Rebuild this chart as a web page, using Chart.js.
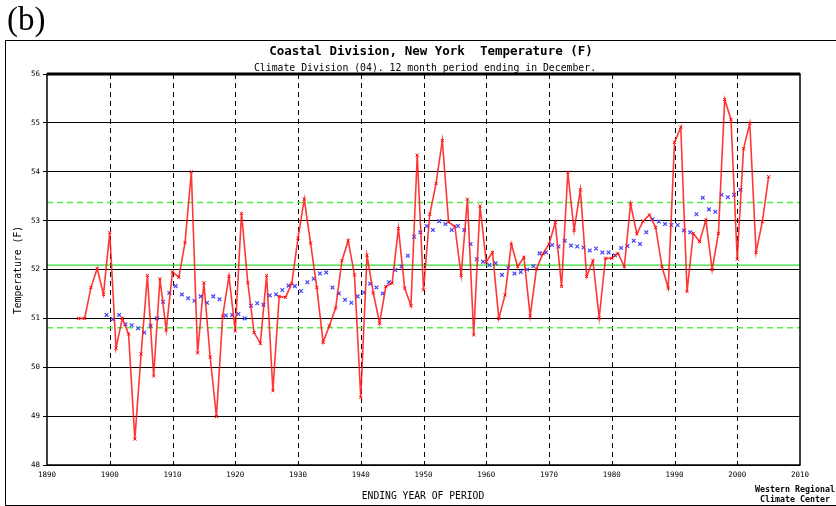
<!DOCTYPE html>
<html>
<head>
<meta charset="utf-8">
<script src="https://cdn.jsdelivr.net/npm/chart.js@4.4.1/dist/chart.umd.min.js"></script>
<style>
  html, body { margin:0; padding:0; background:#fff; }
  #wrap { position:relative; width:836px; height:506px; overflow:hidden; background:#fff; }
  #c { position:absolute; left:0; top:0; }
  .t { position:absolute; white-space:nowrap; color:#000; font-family:"DejaVu Sans Mono", "Liberation Mono", monospace; line-height:1; }
  #frame { position:absolute; left:5px; top:40px; width:840px; height:466px; border:1px solid #000; box-sizing:border-box; }
</style>
</head>
<body>
<div id="wrap">
  <div id="frame"></div>
  <canvas id="c" width="836" height="506"></canvas>
  <div class="t" style="left:7px;top:3px;font-family:'Liberation Serif','DejaVu Serif',serif;font-size:33px;">(b)</div>
  <div class="t" style="left:431px;top:45px;transform:translateX(-50%);font-size:12.5px;font-weight:bold;">Coastal Division, New York&nbsp;&nbsp;Temperature (F)</div>
  <div class="t" style="left:425px;top:63px;transform:translateX(-50%);font-size:9.8px;">Climate Division (04). 12 month period ending in December.</div>
  <div class="t" style="left:18px;top:270px;transform:translate(-50%,-50%) rotate(-90deg);font-size:9.8px;">Temperature (F)</div>
  <div class="t" style="left:423px;top:491px;transform:translateX(-50%);font-size:9.7px;">ENDING YEAR OF PERIOD</div>
  <div class="t" style="left:795px;top:485px;transform:translateX(-50%);font-size:8.3px;font-weight:bold;">Western Regional</div>
  <div class="t" style="left:795px;top:495px;transform:translateX(-50%);font-size:8.3px;font-weight:bold;">Climate Center</div>
</div>
<script>
// ---- Data ----
const years = [1895,1896,1897,1898,1899,1900,1901,1902,1903,1904,1905,1906,1907,1908,1909,
  1910,1911,1912,1913,1914,1915,1916,1917,1918,1919,1920,1921,1922,1923,1924,1925,1926,1927,1928,1929,
  1930,1931,1932,1933,1934,1935,1936,1937,1938,1939,1940,1941,1942,1943,1944,1945,1946,1947,1948,1949,
  1950,1951,1952,1953,1954,1955,1956,1957,1958,1959,1960,1961,1962,1963,1964,1965,1966,1967,1968,1969,
  1970,1971,1972,1973,1974,1975,1976,1977,1978,1979,1980,1981,1982,1983,1984,1985,1986,1987,1988,1989,
  1990,1991,1992,1993,1994,1995,1996,1997,1998,1999,2000,2001,2002,2003,2004,2005];
const annualTemp = [51.0,51.0,51.63,52.02,51.49,52.76,50.39,51.0,50.68,48.53,50.27,51.88,49.82,51.81,50.76,
  51.95,51.84,52.55,54.0,50.29,51.73,50.21,48.99,51.05,51.86,50.74,53.15,51.73,50.71,50.49,51.88,49.52,51.45,51.43,51.71,
  52.64,53.44,52.54,51.63,50.51,50.85,51.21,52.18,52.59,51.89,49.38,52.29,51.52,50.90,51.65,51.72,52.84,51.62,51.26,54.34,
  51.58,53.13,53.76,54.64,52.97,52.88,51.88,53.44,50.66,53.30,52.16,52.35,51.0,51.48,52.52,52.06,52.25,51.05,52.01,52.32,
  52.52,52.96,51.65,53.99,52.80,53.63,51.86,52.18,51.01,52.23,52.23,52.33,52.06,53.34,52.73,52.99,53.12,52.86,52.06,51.62,
  54.60,54.91,51.55,52.74,52.57,53.01,52.0,52.74,55.48,55.07,52.21,54.47,54.99,52.35,52.98,53.90];

const avgYears = [1899.5,1900.5,1901.5,1902.5,1903.5,1904.5,1905.5,1906.5,1907.5,1908.5,1909.5,
  1910.5,1911.5,1912.5,1913.5,1914.5,1915.5,1916.5,1917.5,1918.5,1919.5,1920.5,1921.5,1922.5,1923.5,1924.5,1925.5,
  1926.5,1927.5,1928.5,1929.5,1930.5,1931.5,1932.5,1933.5,1934.5,1935.5,1936.5,1937.5,1938.5,1939.5,1940.5,
  1941.5,1942.5,1943.5,1944.5,1945.5,1946.5,1947.5,1948.5,1949.5,1950.5,1951.5,1952.5,1953.5,1954.5,1955.5,
  1956.5,1957.5,1958.5,1959.5,1960.5,1961.5,1962.5,1963.5,1964.5,1965.5,1966.5,1967.5,1968.5,1969.5,1970.5,
  1971.5,1972.5,1973.5,1974.5,1975.5,1976.5,1977.5,1978.5,1979.5,1980.5,1981.5,1982.5,1983.5,1984.5,1985.5,
  1986.5,1987.5,1988.5,1989.5,1990.5,1991.5,1992.5,1993.5,1994.5,1995.5,1996.5,1997.5,1998.5,1999.5,2000.5];
const avgTemp = [51.07,50.98,51.07,50.88,50.86,50.80,50.71,50.85,51.0,51.34,51.52,
  51.66,51.49,51.41,51.36,51.45,51.32,51.45,51.39,51.06,51.07,51.09,51.0,51.26,51.31,51.28,51.47,
  51.49,51.58,51.67,51.66,51.56,51.74,51.81,51.92,51.94,51.63,51.51,51.38,51.32,51.45,51.53,
  51.71,51.63,51.51,51.74,51.99,52.06,52.28,52.67,52.76,52.89,52.81,52.99,52.93,52.81,52.89,
  52.81,52.52,52.21,52.16,52.09,52.13,51.89,52.03,51.92,51.95,52.0,52.07,52.33,52.35,52.50,
  52.47,52.59,52.49,52.47,52.45,52.39,52.43,52.35,52.35,52.29,52.44,52.48,52.59,52.52,52.76,
  53.03,52.98,52.93,52.91,52.91,52.80,52.76,53.13,53.47,53.23,53.18,53.53,53.48,53.53,53.63];

const meanValue = 52.09;
const upperSD = 53.37;
const lowerSD = 50.81;
const xTicks = [1890,1900,1910,1920,1930,1940,1950,1960,1970,1980,1990,2000,2010];
const yTicks = [48,49,50,51,52,53,54,55,56];

// ---- Chart ----
const X_MIN = xTicks[0], X_MAX = xTicks[xTicks.length-1];
const hline = v => [{x:X_MIN,y:v},{x:X_MAX,y:v}];

// dashed vertical decade lines, positioned through the x scale
const decadeLines = {
  id:'decadeLines',
  beforeDatasetsDraw(chart){
    const a = chart.chartArea, ctx = chart.ctx, xs = chart.scales.x;
    ctx.save();
    ctx.strokeStyle = '#000';
    ctx.lineWidth = 1;
    ctx.setLineDash([5,4]);
    xTicks.forEach(v => {
      if (v === X_MIN || v === X_MAX) return;
      const px = Math.round(xs.getPixelForValue(v)) + 0.5;
      ctx.beginPath(); ctx.moveTo(px, a.top); ctx.lineTo(px, a.bottom); ctx.stroke();
    });
    ctx.restore();
  }
};

const framePlugin = {
  id:'frame',
  afterDatasetsDraw(chart){
    const a = chart.chartArea, ctx = chart.ctx;
    ctx.save();
    ctx.strokeStyle = '#000';
    ctx.lineWidth = 1.5;
    ctx.strokeRect(a.left, a.top, a.right-a.left, a.bottom-a.top);
    ctx.lineWidth = 3;
    ctx.beginPath(); ctx.moveTo(a.left, a.top); ctx.lineTo(a.right, a.top); ctx.stroke();
    ctx.restore();
  }
};

const tickFont = {family:'"DejaVu Sans Mono", "Liberation Mono", monospace', size:7.5};

new Chart(document.getElementById('c'), {
  type:'scatter',
  data:{
    datasets:[
      {data:hline(upperSD), showLine:true, borderColor:'#55ee44', borderWidth:1.5, borderDash:[6,4], pointRadius:0, order:5},
      {data:hline(lowerSD), showLine:true, borderColor:'#55ee44', borderWidth:1.5, borderDash:[6,4], pointRadius:0, order:5},
      {data:hline(meanValue), showLine:true, borderColor:'#33dd33', borderWidth:1.2, pointRadius:0, order:5},
      {data:avgYears.map((x,i)=>({x, y:avgTemp[i]})), showLine:false, pointStyle:'crossRot', pointRadius:2.6,
        borderColor:'#4444ff', backgroundColor:'#4444ff', pointBorderWidth:1.2, order:2},
      {data:years.map((x,i)=>({x, y:annualTemp[i]})), showLine:true, borderColor:'rgba(255,20,20,0.85)', borderWidth:1.6,
        pointStyle:'crossRot', pointRadius:2.2, pointBorderWidth:1, pointBorderColor:'#ff0000', backgroundColor:'#ff0000', tension:0, order:1}
    ]
  },
  options:{
    responsive:false,
    animation:false,
    devicePixelRatio:1,
    layout:{padding:{top:74, left:0, right:36, bottom:0}},
    plugins:{legend:{display:false}, tooltip:{enabled:false}, title:{display:false}},
    scales:{
      x:{
        type:'linear', min:X_MIN, max:X_MAX,
        afterBuildTicks(s){ s.ticks = xTicks.map(v=>({value:v})); },
        afterFit(s){ s.height = 41; },
        ticks:{font:tickFont, color:'#000', padding:6, maxRotation:0, autoSkip:false, callback:v=>String(v)},
        grid:{display:false, drawTicks:false},
        border:{display:false}
      },
      y:{
        type:'linear', min:yTicks[0], max:yTicks[yTicks.length-1],
        afterBuildTicks(s){ s.ticks = yTicks.map(v=>({value:v})); },
        afterFit(s){ s.width = 47; },
        ticks:{font:tickFont, color:'#000', padding:3, callback:v=>String(v)},
        grid:{color:'#000', lineWidth:1, tickLength:4, drawTicks:true},
        border:{display:false}
      }
    }
  },
  plugins:[decadeLines, framePlugin]
});
</script>
</body>
</html>
